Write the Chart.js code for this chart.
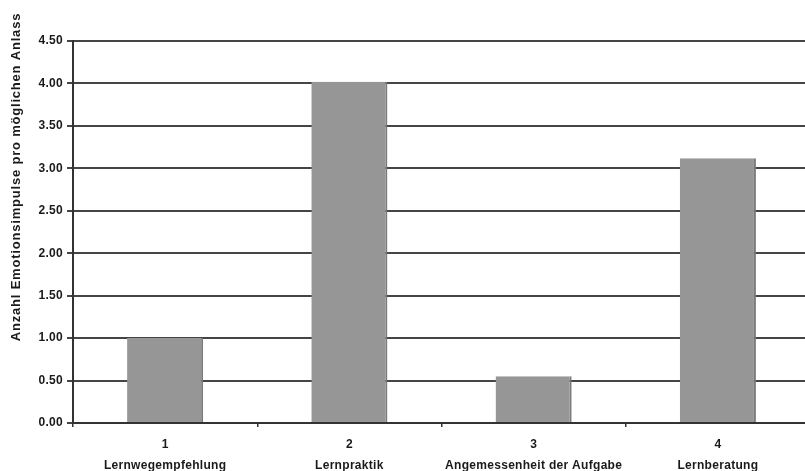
<!DOCTYPE html>
<html>
<head>
<meta charset="utf-8">
<script src="https://cdn.jsdelivr.net/npm/chart.js@4/dist/chart.umd.min.js"></script>
<style>
    html, body { margin: 0; padding: 0; background: #fff; overflow: hidden; }
    #wrap { width: 810px; height: 471px; }
</style>
</head>
<body>
<div id="wrap"><canvas id="chart"></canvas></div>
<script>
// Data
const categoryNumbers = ['1', '2', '3', '4'];
const categoryNames = ['Lernwegempfehlung', 'Lernpraktik', 'Angemessenheit der Aufgabe', 'Lernberatung'];
const values = [1.00, 4.02, 0.55, 3.12];
const yTitle = 'Anzahl Emotionsimpulse pro möglichen Anlass';

const fontFamily = '"Liberation Sans", Arial, sans-serif';

// Slightly wider text, like the original export
const spacingPlugin = {
    id: 'spacing',
    beforeDraw(chart) {
        chart.ctx.letterSpacing = '0.3px';
    }
};

// Rotated y title, sits higher than the plot centre in the original
const yTitlePlugin = {
    id: 'yTitle',
    afterDraw(chart) {
        const { ctx } = chart;
        ctx.save();
        ctx.translate(16, 177);
        ctx.rotate(-Math.PI / 2);
        ctx.letterSpacing = '0.8px';
        ctx.font = 'bold 13px ' + fontFamily;
        ctx.fillStyle = '#1a1a1a';
        ctx.textAlign = 'center';
        ctx.textBaseline = 'middle';
        ctx.fillText(yTitle, 0, 0);
        ctx.restore();
    }
};

new Chart(document.getElementById('chart'), {
    type: 'bar',
    data: {
        labels: categoryNumbers.map((n, i) => [n, categoryNames[i]]),
        datasets: [{
            data: values,
            backgroundColor: '#969696',
            borderColor: '#7a7a7a',
            borderWidth: { top: 0, left: 0, bottom: 0, right: 2 },
            borderSkipped: false,
            barPercentage: 0.413,
            categoryPercentage: 1
        }]
    },
    options: {
        responsive: true,
        maintainAspectRatio: false,
        animation: false,
        layout: { padding: { top: 41, left: 0, right: 0, bottom: 0 } },
        plugins: {
            legend: { display: false },
            tooltip: { enabled: false }
        },
        scales: {
            x: {
                grid: {
                    display: true,
                    drawOnChartArea: false,
                    drawTicks: true,
                    tickLength: 4,
                    color: '#333',
                    lineWidth: 1.5,
                    offset: true
                },
                border: { color: '#333', width: 2 },
                ticks: {
                    color: '#1a1a1a',
                    padding: 7,
                    maxRotation: 0,
                    autoSkip: false,
                    font: { family: fontFamily, size: 12, weight: 'bold', lineHeight: 1.75 }
                },
                afterFit(scale) { scale.height = 48; }
            },
            y: {
                min: 0,
                max: 4.5,
                grid: {
                    color: '#454545',
                    lineWidth: 2,
                    tickLength: 6,
                    drawTicks: true
                },
                border: { color: '#333', width: 2 },
                ticks: {
                    stepSize: 0.5,
                    color: '#1a1a1a',
                    padding: 4,
                    font: { family: fontFamily, size: 12, weight: 'bold' },
                    callback: v => Number(v).toFixed(2)
                },
                afterFit(scale) { scale.width = 73; }
            }
        }
    },
    plugins: [spacingPlugin, yTitlePlugin]
});
</script>
</body>
</html>
